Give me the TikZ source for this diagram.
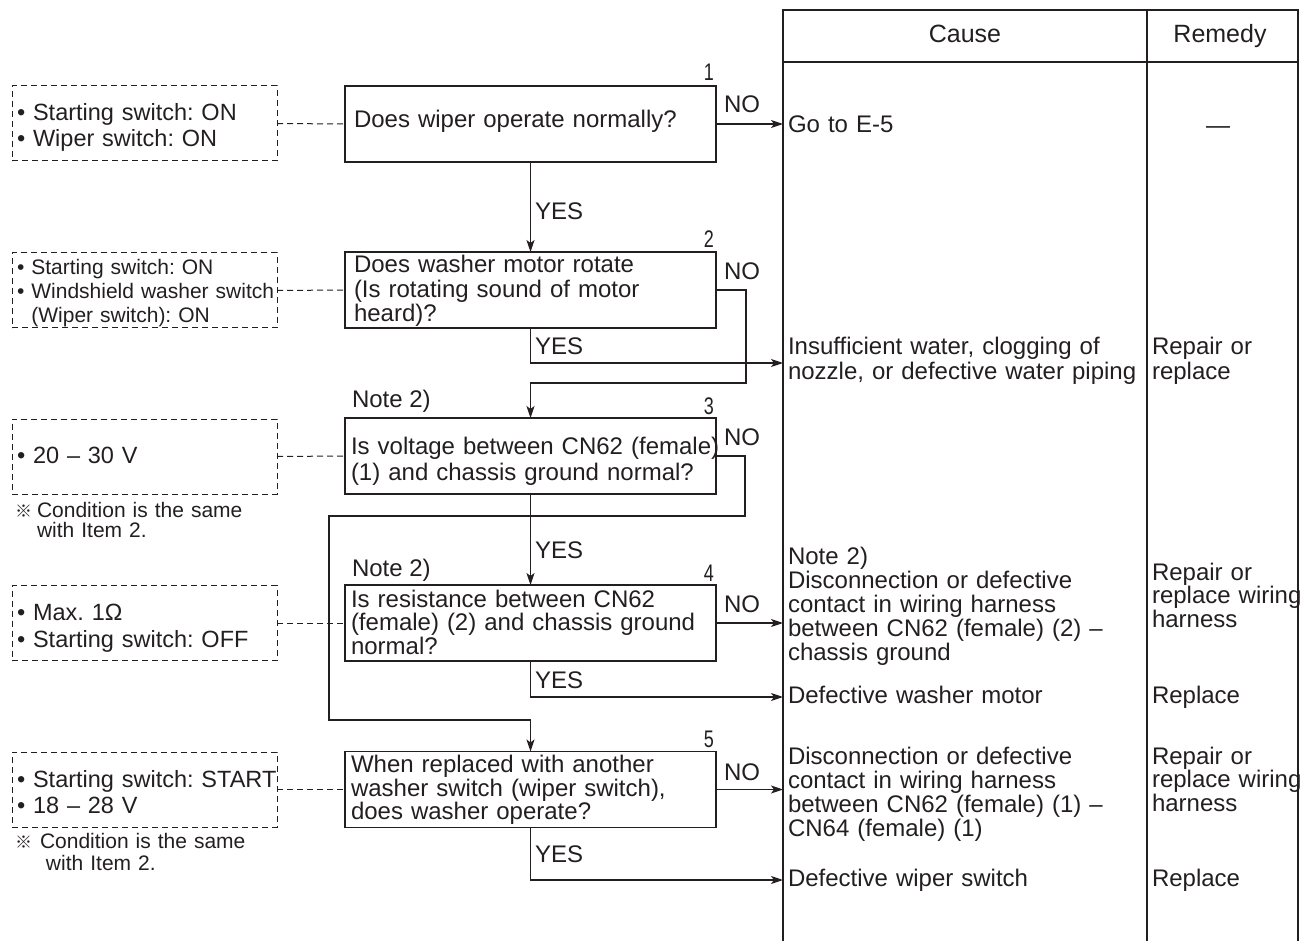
\documentclass[tikz,border=0pt]{standalone}
\usepackage{fontspec}
\setmainfont{Liberation Sans}
\newfontfamily\condfont[FakeStretch=0.75]{Liberation Sans}
\newfontfamily\refmarkfont{Noto Sans CJK JP}
\usetikzlibrary{arrows.meta}
\definecolor{ink}{RGB}{35,31,32}
\frenchspacing
\newcommand{\refmark}{{\refmarkfont\fontsize{17}{17}\selectfont ※}}

\begin{document}
\begin{tikzpicture}[x=1pt,y=-1pt,
  every node/.style={inner sep=0pt, outer sep=0pt, text=ink},
  ln/.style={line width=1.4pt, draw=ink},
  qbox/.style={ln, rectangle, minimum width=371pt, minimum height=76pt},
  cbox/.style={draw=ink, line width=1pt, dash pattern=on 6pt off 4pt, rectangle,
               minimum width=265pt, minimum height=75pt},
  link/.style={draw=ink, line width=1pt, dash pattern=on 6pt off 4pt},
  flow/.style={ln, -{Stealth[length=12pt,width=8pt,inset=3pt]}},
  tx/.style={anchor=base west, align=left, text width=420pt},
  lbl/.style={anchor=base west, font=\fontsize{24}{24}\selectfont},
  num/.style={anchor=base east, font=\condfont\fontsize{24}{24}\selectfont},
]
\useasboundingbox (0,0) rectangle (1307,941);

% ---- cause / remedy table ----
\coordinate (tl) at (783,10);
\coordinate (tm) at (1147,10);
\coordinate (tr) at (1298,10);
\draw[ln] (783,941) -- (tl) -- (tr) -- (1298,941);
\draw[ln] (tm) -- (1147,941);
\draw[ln] (783,62) -- (1298,62);
\node[anchor=base, font=\fontsize{25}{25}\selectfont] (hcause) at (965,43) {Cause};
\node[anchor=base, font=\fontsize{25}{25}\selectfont] (hremedy) at (1220,43) {Remedy};

% ---- check items ----
\node[qbox] (b1) at (530.5,124) {};
\node[qbox] (b2) at (530.5,290) {};
\node[qbox] (b3) at (530.5,456) {};
\node[qbox] (b4) at (530.5,623) {};
\node[qbox] (b5) at (530.5,789.5) {};

\node[tx, font=\fontsize{24}{24}\selectfont] (b1t) at ([xshift=9pt,yshift=-42pt]b1.north west)
  {Does wiper operate normally?};
\node[tx, font=\fontsize{24}{24.5}\selectfont] (b2t) at ([xshift=9pt,yshift=-21pt]b2.north west)
  {Does washer motor rotate\\(Is rotating sound of motor\\heard)?};
\node[tx, font=\fontsize{24}{26}\selectfont] (b3t) at ([xshift=6pt,yshift=-36pt]b3.north west)
  {Is voltage between CN62 (female)\\(1) and chassis ground normal?};
\node[tx, font=\fontsize{24}{23.5}\selectfont] (b4t) at ([xshift=6pt,yshift=-22pt]b4.north west)
  {Is resistance between CN62\\(female) (2) and chassis ground\\normal?};
\node[tx, font=\fontsize{24}{23.5}\selectfont] (b5t) at ([xshift=6pt,yshift=-21pt]b5.north west)
  {When replaced with another\\washer switch (wiper switch),\\does washer operate?};

\node[num] (n1) at ([xshift=-2pt,yshift=5pt]b1.north east) {1};
\node[num] (n2) at ([xshift=-2pt,yshift=4pt]b2.north east) {2};
\node[num] (n3) at ([xshift=-2pt,yshift=4pt]b3.north east) {3};
\node[num] (n4) at ([xshift=-2pt,yshift=4pt]b4.north east) {4};
\node[num] (n5) at ([xshift=-2pt,yshift=4pt]b5.north east) {5};

\node[lbl] (note3) at (352,407) {Note 2)};
\node[lbl] (note4) at (352,576) {Note 2)};

% ---- measuring conditions ----
\node[cbox] (s1) at (144.5,123.5) {};
\node[cbox] (s2) at (144.5,290.5) {};
\node[cbox] (s3) at (144.5,456.5) {};
\node[cbox] (s4) at (144.5,623) {};
\node[cbox] (s5) at (144.5,789.5) {};

\node[tx, font=\fontsize{23.5}{26}\selectfont] (s1t) at ([xshift=5pt,yshift=-35pt]s1.north west)
  {• Starting switch: ON\\• Wiper switch: ON};
\node[tx, font=\fontsize{21}{24}\selectfont] (s2t) at ([xshift=5pt,yshift=-22pt]s2.north west)
  {• Starting switch: ON\\• Windshield washer switch\\\hphantom{• }(Wiper switch): ON};
\node[tx, font=\fontsize{23.5}{26}\selectfont] (s3t) at ([xshift=5pt,yshift=-44pt]s3.north west)
  {• 20 – 30 V};
\node[tx, font=\fontsize{23.5}{27}\selectfont] (s4t) at ([xshift=5pt,yshift=-35pt]s4.north west)
  {• Max. 1Ω\\• Starting switch: OFF};
\node[tx, font=\fontsize{23.5}{26}\selectfont] (s5t) at ([xshift=5pt,yshift=-35pt]s5.north west)
  {• Starting switch: START\\• 18 – 28 V};

\node[tx, font=\fontsize{21}{20}\selectfont] (r3) at (15,517)
  {\makebox[22pt][l]{\refmark}Condition is the same\\\hspace*{22pt}with Item 2.};
\node[tx, font=\fontsize{21}{22}\selectfont] (r5) at (15,848)
  {\makebox[25pt][l]{\refmark}Condition is the same\\\hspace*{31pt}with Item 2.};

\draw[link] (s1.east) -- (b1.west);
\draw[link] (s2.east) -- (b2.west);
\draw[link] (s3.east) -- (b3.west);
\draw[link] (s4.east) -- (b4.west);
\draw[link] (s5.east) -- (b5.west);

% ---- flow ----
\coordinate (k2) at (746,383);
\coordinate (k3) at (745,516);
\coordinate (k3b) at (329,720);
\coordinate (e2) at (783,363);
\coordinate (e4) at (783,697);
\coordinate (e5) at (783,880);

\draw[flow] (b1.east) -- (b1.east -| tl);
\draw[flow] (b1.south) -- (b2.north);
\draw[flow] (b2.east) -| (k2) -| (b3.north);
\draw[flow] (b2.south) |- (e2);
\draw[flow] (b3.east) -| (k3) -| (k3b) -| (b5.north);
\draw[flow] (b3.south) -- (b4.north);
\draw[flow] (b4.east) -- (b4.east -| tl);
\draw[flow] (b4.south) |- (e4);
\draw[flow] (b5.east) -- (b5.east -| tl);
\draw[flow] (b5.south) |- (e5);

\node[lbl] (no1) at (724,113) {NO};
\node[lbl] (no2) at (724,280) {NO};
\node[lbl] (no3) at (724,445) {NO};
\node[lbl] (no4) at (724,612) {NO};
\node[lbl] (no5) at (724,780) {NO};
\node[lbl] (yes1) at (535,220) {YES};
\node[lbl] (yes2) at (535,355) {YES};
\node[lbl] (yes3) at (535,558) {YES};
\node[lbl] (yes4) at (535,688) {YES};
\node[lbl] (yes5) at (535,862) {YES};

% ---- causes ----
\node[tx, font=\fontsize{24}{24}\selectfont] (c1) at (788,133) {Go to E-5};
\node[tx, font=\fontsize{24}{25}\selectfont] (c2) at (788,355)
  {Insufficient water, clogging of\\nozzle, or defective water piping};
\node[tx, font=\fontsize{24}{24}\selectfont] (c3) at (788,564)
  {Note 2)\\Disconnection or defective\\contact in wiring harness\\between CN62 (female) (2) –\\chassis ground};
\node[tx, font=\fontsize{24}{24}\selectfont] (c4) at (788,703) {Defective washer motor};
\node[tx, font=\fontsize{24}{24}\selectfont] (c5) at (788,764)
  {Disconnection or defective\\contact in wiring harness\\between CN62 (female) (1) –\\CN64 (female) (1)};
\node[tx, font=\fontsize{24}{24}\selectfont] (c6) at (788,886) {Defective wiper switch};

% ---- remedies ----
\node[anchor=base, font=\fontsize{24}{24}\selectfont] (m1) at (1218,134) {—};
\node[tx, font=\fontsize{24}{25}\selectfont] (m2) at (1152,355) {Repair or\\replace};
\node[tx, font=\fontsize{24}{23.5}\selectfont] (m3) at (1152,580) {Repair or\\replace wiring\\harness};
\node[tx, font=\fontsize{24}{24}\selectfont] (m4) at (1152,703) {Replace};
\node[tx, font=\fontsize{24}{23.5}\selectfont] (m5) at (1152,764) {Repair or\\replace wiring\\harness};
\node[tx, font=\fontsize{24}{24}\selectfont] (m6) at (1152,886) {Replace};

\end{tikzpicture}
\end{document}
